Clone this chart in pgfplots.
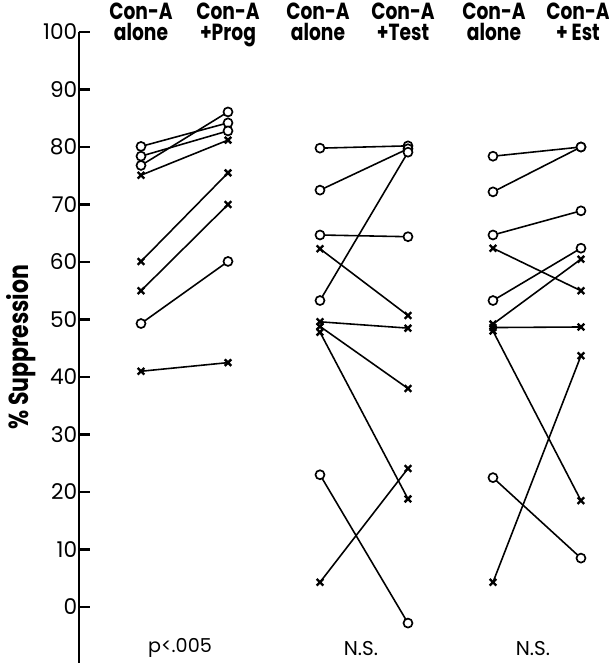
\documentclass[border=0pt]{standalone}
\usepackage{fontspec}
\setmainfont{Poppins}
\newfontfamily\hdr[FakeStretch=0.8]{Poppins}
\usepackage{pgfplots}
\pgfplotsset{compat=1.18}
\pgfplotsset{
 po/.style={black, line width=0.95pt, mark=*, mark size=2.7pt, mark options={fill=white, line width=1pt}},
 px/.style={black, line width=0.95pt, mark=x, mark size=2.8pt, mark options={line width=1.4pt}},
}
\begin{document}
\begin{tikzpicture}
\begin{axis}[
 scale only axis, width=318pt, height=378.6pt,
 xmin=79, xmax=609, ymin=-9.74, ymax=100,
 axis x line=none, axis y line*=left,
 ytick={0,10,...,100}, xtick=\empty,
 tick align=inside, major tick length=6.6pt,
 every tick/.style={black, line width=1.3pt},
 axis line style={line width=1.6pt},
 yticklabel style={font=\fontsize{13}{14}\selectfont, xshift=2.5pt},
 /pgf/number format/assume math mode=true,
 clip=false,
]
% Group 1: Con-A alone vs +Prog
\addplot[po] coordinates {(141,80.1) (228,84.2)};
\addplot[po] coordinates {(141,78.4) (228,82.8)};
\addplot[po] coordinates {(141,76.8) (228,86.1)};
\addplot[px] coordinates {(141,75.1) (228,81.2)};
\addplot[px] coordinates {(141,60.1) (228,75.5)};
\addplot[px] coordinates {(141,55.0) (228,70.0)};
\addplot[po] coordinates {(141,49.3) (228,60.1)};
\addplot[px] coordinates {(141,41.0) (228,42.5)};
% Group 2: Con-A alone vs +Test
\addplot[po] coordinates {(320,79.8) (408,80.2)};
\addplot[po] coordinates {(320,72.5) (408,79.7)};
\addplot[po] coordinates {(320,64.7) (408,64.4)};
\addplot[px] coordinates {(320,62.3) (408,50.7)};
\addplot[po] coordinates {(320,53.3) (408,79.1)};
\addplot[px] coordinates {(320,49.6) (408,48.5)};
\addplot[px] coordinates {(320,48.8) (408,38.0)};
\addplot[px] coordinates {(320,47.8) (408,18.8)};
\addplot[po] coordinates {(320,23.0) (408,-2.8)};
\addplot[px] coordinates {(320,4.3) (408,24.1)};
% Group 3: Con-A alone vs +Est
\addplot[po] coordinates {(493,78.4) (581,80.0)};
\addplot[po] coordinates {(493,72.2) (581,80.0)};
\addplot[po] coordinates {(493,64.7) (581,68.9)};
\addplot[px] coordinates {(493,62.4) (581,55.0)};
\addplot[po] coordinates {(493,53.3) (581,62.4)};
\addplot[px] coordinates {(493,49.2) (581,60.5)};
\addplot[px] coordinates {(493,48.6) (581,48.7)};
\addplot[px] coordinates {(493,48.0) (581,18.5)};
\addplot[po] coordinates {(493,22.5) (581,8.5)};
\addplot[px] coordinates {(493,4.3) (581,43.7)};

\begin{scope}[every node/.style={inner sep=0pt, align=center, anchor=north, font=\hdr\bfseries\fontsize{14}{13}\selectfont}]
\node at (axis cs:141,105.2) {Con-A\\alone};
\node at (axis cs:228,105.2) {Con-A\\+Prog};
\node at (axis cs:318,105.2) {Con-A\\alone};
\node at (axis cs:403,105.2) {Con-A\\+Test};
\node at (axis cs:494,105.2) {Con-A\\alone};
\node at (axis cs:578,105.2) {Con-A\\+\,Est};
\end{scope}
\node[rotate=90, font=\hdr\bfseries\fontsize{16.5}{16}\selectfont] at (axis cs:21,45.2) {\% Suppression};
\node[inner sep=0pt, font=\fontsize{11.5}{12}\selectfont] at (axis cs:180,-7.1) {p<.005};
\node[inner sep=0pt, font=\fontsize{12}{12}\selectfont] at (axis cs:361,-7.3) {N.S.};
\node[inner sep=0pt, font=\fontsize{12}{12}\selectfont] at (axis cs:533,-7.3) {N.S.};
\coordinate (BL) at (axis cs:0,-9.74);
\coordinate (TR) at (axis cs:609,105.57);
\end{axis}
\pgfresetboundingbox
\path[use as bounding box] (BL) rectangle (TR);
\end{tikzpicture}
\end{document}
